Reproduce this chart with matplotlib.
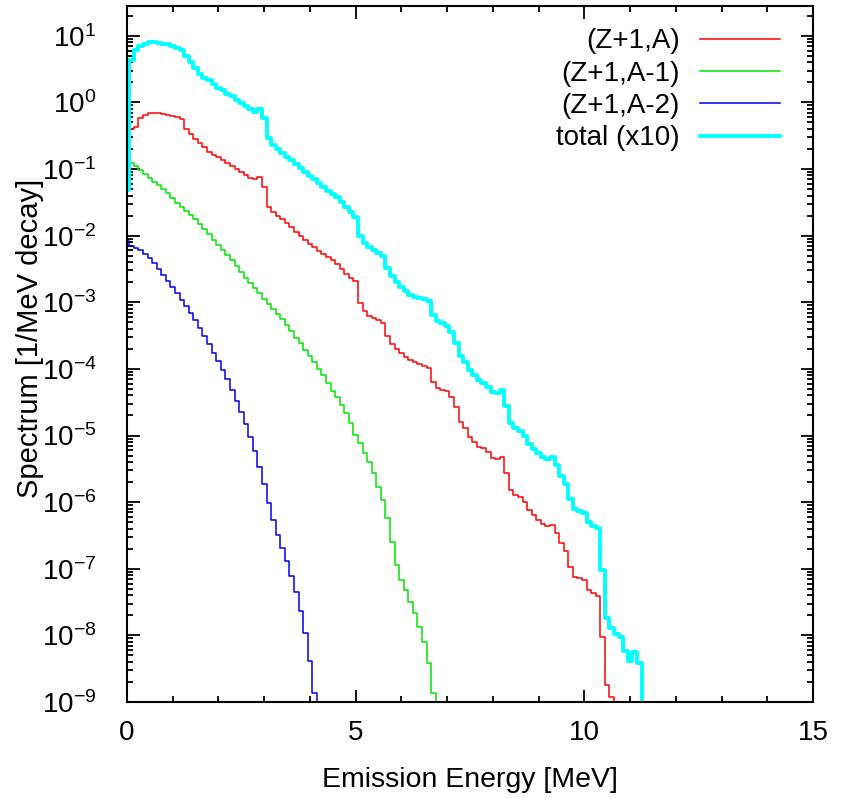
import numpy as np
import matplotlib
matplotlib.use("Agg")
import matplotlib.pyplot as plt
from matplotlib.ticker import MultipleLocator, LogLocator, NullFormatter

# log10 of the spectrum in 0.1 MeV bins; bin j is centred on 0.1*j MeV (bin 0 covers 0-0.05)
z1_a = [-0.68, -0.40, -0.37, -0.23, -0.19, -0.16, -0.16, -0.16, -0.17, -0.19,
        -0.20, -0.22, -0.25, -0.40, -0.47, -0.55, -0.61, -0.67, -0.74, -0.79,
        -0.82, -0.86, -0.91, -0.95, -1.00, -1.04, -1.09, -1.13, -1.15, -1.12,
        -1.27, -1.57, -1.64, -1.70, -1.75, -1.81, -1.87, -1.94, -2.00, -2.06,
        -2.12, -2.17, -2.23, -2.27, -2.32, -2.36, -2.42, -2.50, -2.57, -2.63,
        -2.68, -3.01, -3.13, -3.20, -3.23, -3.27, -3.31, -3.50, -3.62, -3.70,
        -3.76, -3.82, -3.86, -3.90, -3.92, -3.95, -3.98, -4.20, -4.29, -4.32,
        -4.33, -4.42, -4.57, -4.80, -4.89, -5.02, -5.10, -5.17, -5.19, -5.25,
        -5.34, -5.35, -5.32, -5.56, -5.82, -5.89, -5.92, -6.00, -6.12, -6.19,
        -6.27, -6.33, -6.36, -6.34, -6.46, -6.61, -6.73, -6.97, -7.12, -7.14,
        -7.17, -7.32, -7.36, -7.41, -8.02, -8.74, -8.92]

z1_a1 = [-0.86, -0.91, -0.95, -1.01, -1.07, -1.13, -1.19, -1.24, -1.30, -1.36,
         -1.43, -1.51, -1.57, -1.63, -1.69, -1.75, -1.82, -1.90, -1.97, -2.06,
         -2.14, -2.21, -2.29, -2.36, -2.45, -2.54, -2.63, -2.71, -2.78, -2.86,
         -2.95, -3.02, -3.10, -3.17, -3.25, -3.34, -3.43, -3.53, -3.61, -3.71,
         -3.80, -3.89, -4.00, -4.09, -4.21, -4.33, -4.42, -4.54, -4.66, -4.81,
         -4.99, -5.11, -5.26, -5.40, -5.56, -5.77, -5.97, -6.24, -6.60, -6.94,
         -7.17, -7.32, -7.50, -7.66, -7.87, -8.10, -8.41, -8.87]

z1_a2 = [-2.08, -2.15, -2.18, -2.21, -2.27, -2.33, -2.41, -2.50, -2.59, -2.68,
         -2.77, -2.86, -2.96, -3.05, -3.16, -3.26, -3.38, -3.50, -3.62, -3.76,
         -3.88, -4.02, -4.15, -4.32, -4.48, -4.64, -4.82, -5.02, -5.23, -5.47,
         -5.73, -6.01, -6.27, -6.49, -6.69, -6.89, -7.11, -7.35, -7.63, -7.97,
         -8.38, -8.87]

total_x10 = [-1.31, 0.64, 0.78, 0.85, 0.88, 0.90, 0.90, 0.89, 0.88, 0.87,
             0.85, 0.82, 0.78, 0.69, 0.60, 0.51, 0.43, 0.37, 0.33, 0.27,
             0.22, 0.18, 0.13, 0.09, 0.04, -0.01, -0.05, -0.10, -0.14, -0.10,
             -0.23, -0.53, -0.64, -0.70, -0.76, -0.82, -0.86, -0.92, -0.98, -1.04,
             -1.10, -1.15, -1.21, -1.27, -1.33, -1.37, -1.42, -1.49, -1.57, -1.64,
             -1.72, -2.00, -2.11, -2.17, -2.21, -2.26, -2.30, -2.48, -2.60, -2.69,
             -2.77, -2.83, -2.89, -2.92, -2.93, -2.95, -2.98, -3.19, -3.28, -3.31,
             -3.35, -3.44, -3.61, -3.80, -3.89, -4.02, -4.09, -4.17, -4.21, -4.27,
             -4.35, -4.36, -4.32, -4.56, -4.81, -4.89, -4.93, -5.01, -5.13, -5.20,
             -5.26, -5.32, -5.35, -5.33, -5.44, -5.61, -5.73, -5.95, -6.10, -6.13,
             -6.16, -6.30, -6.36, -6.39, -7.02, -7.74, -7.89, -7.98, -8.02, -8.23,
             -8.38, -8.25, -8.41]

labels = ["(Z+1,A)", "(Z+1,A-1)", "(Z+1,A-2)", "total (x10)"]
colors = ["#ff0000", "#00e600", "#0000ee", "#00ffff"]
widths = [1.1, 1.1, 1.1, 2.8]
xticks = [0, 5, 10, 15]

plt.rcParams["font.family"] = ["Liberation Sans", "DejaVu Sans"]
plt.rcParams["mathtext.fontset"] = "custom"
plt.rcParams["mathtext.rm"] = "Liberation Sans"
plt.rcParams["mathtext.it"] = "Liberation Sans:italic"
plt.rcParams["mathtext.default"] = "regular"
plt.rcParams["axes.unicode_minus"] = False

floor = 1e-12
edges = np.concatenate([[0.0], np.arange(1, 115) * 0.1 - 0.05])

fig = plt.figure(figsize=(8.43, 7.99), dpi=100)
ax = fig.add_axes([0.1507, 0.1214, 0.8137, 0.8711])


def draw(vals, color, lw, label, rise=True):
    # histogram steps, dropping to the floor after the last bin
    n = len(vals)
    x = edges[:n + 1]
    y = np.append(10.0 ** np.array(vals), floor)
    if rise:
        x = np.insert(x, 0, 0.0)
        y = np.insert(y, 0, floor)
    ax.step(x, y, where="post", color=color, lw=lw, label=label)


series = [z1_a, z1_a1, z1_a2, total_x10]
for i in range(4):
    draw(series[i], colors[i], widths[i], labels[i], rise=(i < 3))

ax.set_yscale("log")
ax.set_xlim(0, 15)
ax.set_ylim(1e-9, 28)
ax.set_xticks(xticks)
ax.xaxis.set_minor_locator(MultipleLocator(1))
ax.yaxis.set_major_locator(LogLocator(base=10, numticks=30))
ax.yaxis.set_minor_locator(LogLocator(base=10, subs=np.arange(2, 10), numticks=30))
ax.yaxis.set_minor_formatter(NullFormatter())

ax.tick_params(which="both", direction="in", top=True, right=True, width=1.3)
ax.tick_params(which="major", length=9, labelsize=20)
ax.tick_params(which="minor", length=4.5)
ax.tick_params(axis="x", pad=13)
ax.tick_params(axis="y", pad=22)
for s in ax.spines.values():
    s.set_linewidth(1.5)

ax.set_xlabel("Emission Energy [MeV]", fontsize=20.5, labelpad=15)
ax.set_ylabel("Spectrum [1/MeV decay]", fontsize=21)
ax.yaxis.set_label_coords(-0.121, 0.522)

ax.legend(loc="upper right", bbox_to_anchor=(0.952, 0.968), frameon=False,
          markerfirst=False, handlelength=2.9, handletextpad=0.7,
          labelspacing=0.23, borderpad=0, borderaxespad=0, fontsize=20)

fig.savefig("out.png", dpi=100)
